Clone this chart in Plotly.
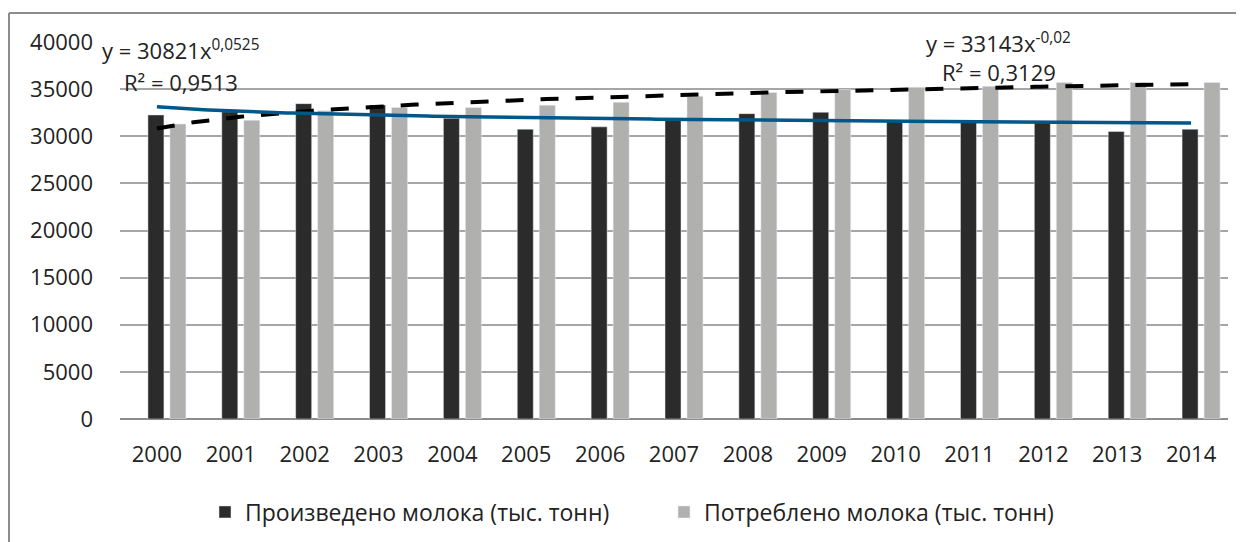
import numpy as np
import plotly.graph_objects as go

years = list(range(2000, 2015))
produced = [32260, 32600, 33460, 33320, 31900, 30750, 31000, 31900, 32400, 32550, 31700, 31600, 31500, 30500, 30750]
consumed = [31300, 31700, 32700, 33050, 33050, 33300, 33600, 34250, 34650, 34950, 35200, 35300, 35700, 35700, 35700]
y_ticks = [0, 5000, 10000, 15000, 20000, 25000, 30000, 35000, 40000]
name_prod = "Произведено молока (тыс. тонн)"
name_cons = "Потреблено молока (тыс. тонн)"

# power trendlines as displayed in the chart: y = a * x^b, x = 1..15
trend_cons = (30821, 0.0525)
trend_prod = (33143, -0.02)

FONT = "Open Sans"
FS = 22
TXT = "#222222"

def px(x):
    return (x - 120) / 1108

def py(y):
    return (419 - y) / 377

CAT = 1108 / 15  # pixels per category
fig = go.Figure()
fig.add_trace(go.Bar(x=years, y=produced, name=name_prod, marker_color="#2A2B2A",
                     width=16 / CAT, offset=-9 / CAT))
fig.add_trace(go.Bar(x=years, y=consumed, name=name_cons, marker_color="#B0B0AF",
                     width=16 / CAT, offset=13 / CAT))

xs = np.linspace(years[0], years[-1], 200)
idx = xs - years[0] + 1
fig.add_trace(go.Scatter(x=xs, y=trend_cons[0] * idx ** trend_cons[1], mode="lines",
                         line=dict(color="#000000", width=4, dash="18px,17px"),
                         showlegend=False, hoverinfo="skip"))
fig.add_trace(go.Scatter(x=xs, y=trend_prod[0] * idx ** trend_prod[1], mode="lines",
                         line=dict(color="#00578A", width=3.5),
                         showlegend=False, hoverinfo="skip"))

fig.update_layout(
    width=1244, height=542,
    margin=dict(l=112, r=24, t=34, b=131),
    paper_bgcolor="white", plot_bgcolor="white",
    barmode="overlay",
    font=dict(family=FONT, size=FS, color=TXT),
    showlegend=True,
    legend=dict(orientation="h", x=px(205), xanchor="left", y=py(512), yanchor="middle",
                font=dict(family=FONT, size=23, color=TXT), itemwidth=30,
                entrywidth=414, entrywidthmode="pixels", traceorder="normal"),
    xaxis=dict(range=[1999.5, 2014.5], tickmode="array", tickvals=years,
               ticktext=[str(y) for y in years], showgrid=False, zeroline=False,
               showline=False, ticks="", ticklabelstandoff=20,
               tickfont=dict(family=FONT, size=FS, color=TXT)),
    yaxis=dict(range=[0, 40000], tickmode="array", tickvals=y_ticks,
               ticktext=[str(v) for v in y_ticks],
               showgrid=True, gridcolor="#A6A6A6", gridwidth=2, zeroline=True,
               zerolinecolor="#8C8C8C", zerolinewidth=2, ticks="", ticklabelstandoff=26,
               tickfont=dict(family=FONT, size=FS, color=TXT)),
    annotations=[
        dict(text="y = 30821x<sup>0,0525</sup>", xref="paper", yref="paper",
             x=px(100), y=py(49), xanchor="left", yanchor="middle",
             showarrow=False, font=dict(family=FONT, size=FS, color=TXT)),
        dict(text="R² = 0,9513", xref="paper", yref="paper",
             x=px(122), y=py(82), xanchor="left", yanchor="middle",
             showarrow=False, font=dict(family=FONT, size=FS, color=TXT)),
        dict(text="y = 33143x<sup>-0,02</sup>", xref="paper", yref="paper",
             x=px(924), y=py(42), xanchor="left", yanchor="middle",
             showarrow=False, font=dict(family=FONT, size=FS, color=TXT)),
        dict(text="R² = 0,3129", xref="paper", yref="paper",
             x=px(940), y=py(72), xanchor="left", yanchor="middle",
             showarrow=False, font=dict(family=FONT, size=FS, color=TXT)),
    ],
    shapes=[
        dict(type="line", xref="paper", yref="paper", x0=px(9), x1=px(1250),
             y0=py(13), y1=py(13), line=dict(color="#8C8C8C", width=2)),
        dict(type="line", xref="paper", yref="paper", x0=px(9), x1=px(9),
             y0=py(13), y1=py(550), line=dict(color="#8C8C8C", width=2)),
    ],
)

fig.write_html("out.html")
